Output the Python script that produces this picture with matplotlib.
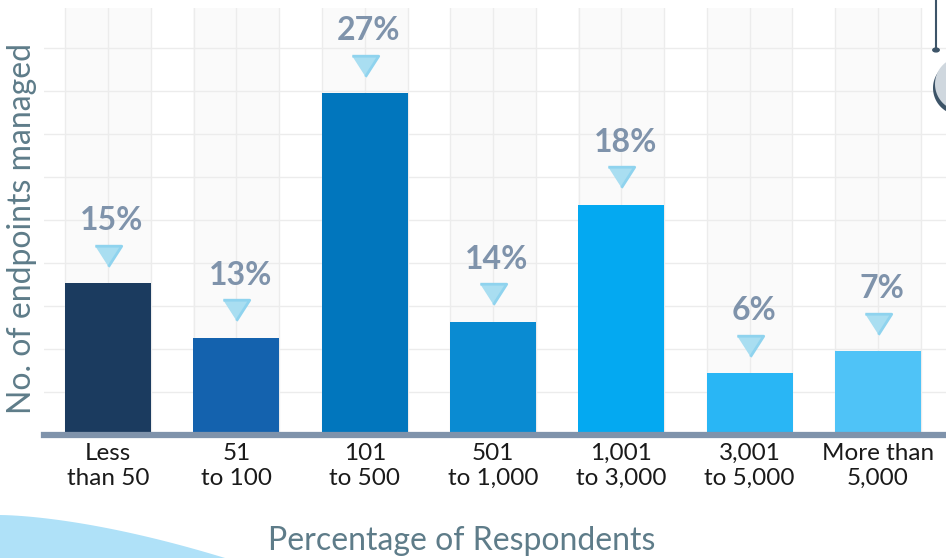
import matplotlib.pyplot as plt
from matplotlib.patches import Polygon, Circle
import numpy as np

# data
categories = ['Less\nthan 50', '51\nto 100', '101\nto 500', '501\nto 1,000',
              '1,001\nto 3,000', '3,001\nto 5,000', 'More than\n5,000']
pct_labels = [15, 13, 27, 14, 18, 6, 7]
# bar heights as drawn (in grid cells, the bars are not to scale with the labels)
bar_heights = [3.53, 2.26, 7.95, 2.63, 5.35, 1.44, 1.95]
bar_colors = ['#1b3b5f', '#1462ae', '#0176bd', '#0a8bd2', '#04a9f1', '#29b6f5', '#4fc3f7']

W, H = 946, 558
fig = plt.figure(figsize=(W / 100, H / 100), dpi=100)
plt.rcParams['font.family'] = ['Lato', 'DejaVu Sans']

# axes placed in pixel terms
left, right, top, base = 44, 946, 8, 435
ax = fig.add_axes([left / W, 1 - base / H, (right - left) / W, (base - top) / H])
x = np.arange(len(categories))
cell = 1 / 3.0
ax.set_xlim(-0.5, (right - 108) / 128.33)
ax.set_ylim(0, (base - top) / 43.0)

# faint shaded columns behind each bar
for xi in x:
    ax.axvspan(xi - 0.335, xi + 0.335, color='#fafafa', zorder=0, lw=0)

# grid
for k in range(21):
    ax.axvline(-1 / 3 + k * cell, color='#ececec', lw=1, zorder=1)
for k in range(1, 10):
    ax.axhline(k, color='#ececec', lw=1, zorder=1)

ax.bar(x, bar_heights, width=0.67, color=bar_colors, zorder=2)

# baseline
ax.axhline(0, color='#7f93ab', lw=4.5, zorder=3, clip_on=False)

# triangle pointers and labels
tri = [(-1, 0.78), (1, 0.78), (0, -0.78)]
for xi, h, p in zip(x, bar_heights, pct_labels):
    ax.plot(xi, h + 0.64, marker=tri, ms=19, mfc='#a9def1', mec='#8fd3ee',
            mew=2, zorder=4, clip_on=False)
    ax.text(xi + 0.03, h + 1.45, f'{p}%', ha='center', va='center', fontsize=23,
            fontweight='bold', color='#7f93ab', zorder=4)

ax.set_xticks(x)
ax.set_xticklabels(categories, fontsize=17.5, color='#1a1a1a', linespacing=1.2)
ax.tick_params(axis='x', length=0, pad=6)
ax.set_yticks([])
for s in ax.spines.values():
    s.set_visible(False)

fig.text(462 / W, 1 - 541 / H, 'Percentage of Respondents', ha='center', va='center',
         fontsize=23, color='#5e7c89')
fig.text(22 / W, 1 - 228 / H, 'No. of endpoints managed', ha='center', va='center',
         rotation=90, fontsize=23, color='#5e7c89')

# decorations: light blue swoosh bottom-left
xs = np.linspace(0, 225, 40)
ys = 515 + 43 * (xs / 225) ** 1.6
pts = [(px / W, 1 - py / H) for px, py in zip(xs, ys)] + [(225 / W, 0), (0, 0)]
fig.add_artist(Polygon(pts, closed=True, transform=fig.transFigure,
                       color='#afe1f8', lw=0, zorder=0))

# decorations: pin top-right
fig.add_artist(plt.Line2D([936 / W, 936 / W], [1, 1 - 50 / H], transform=fig.transFigure,
                          color='#3d5468', lw=1.5))
fig.add_artist(Circle((936 / W, 1 - 50 / H), 3.2 / W, transform=fig.transFigure,
                      color='#3d5468'))
r = 27
cx, cy = 962, 84
th = np.linspace(0, 2 * np.pi, 100)
shadow = [((cx - 2 + r * np.cos(t)) / W, 1 - (cy + 4 + r * np.sin(t)) / H) for t in th]
disc = [((cx + r * np.cos(t)) / W, 1 - (cy + r * np.sin(t)) / H) for t in th]
fig.add_artist(Polygon(shadow, transform=fig.transFigure, color='#3d5468', lw=0))
fig.add_artist(Polygon(disc, transform=fig.transFigure, color='#cfd7de', lw=0))

fig.savefig('out.png', dpi=100)
